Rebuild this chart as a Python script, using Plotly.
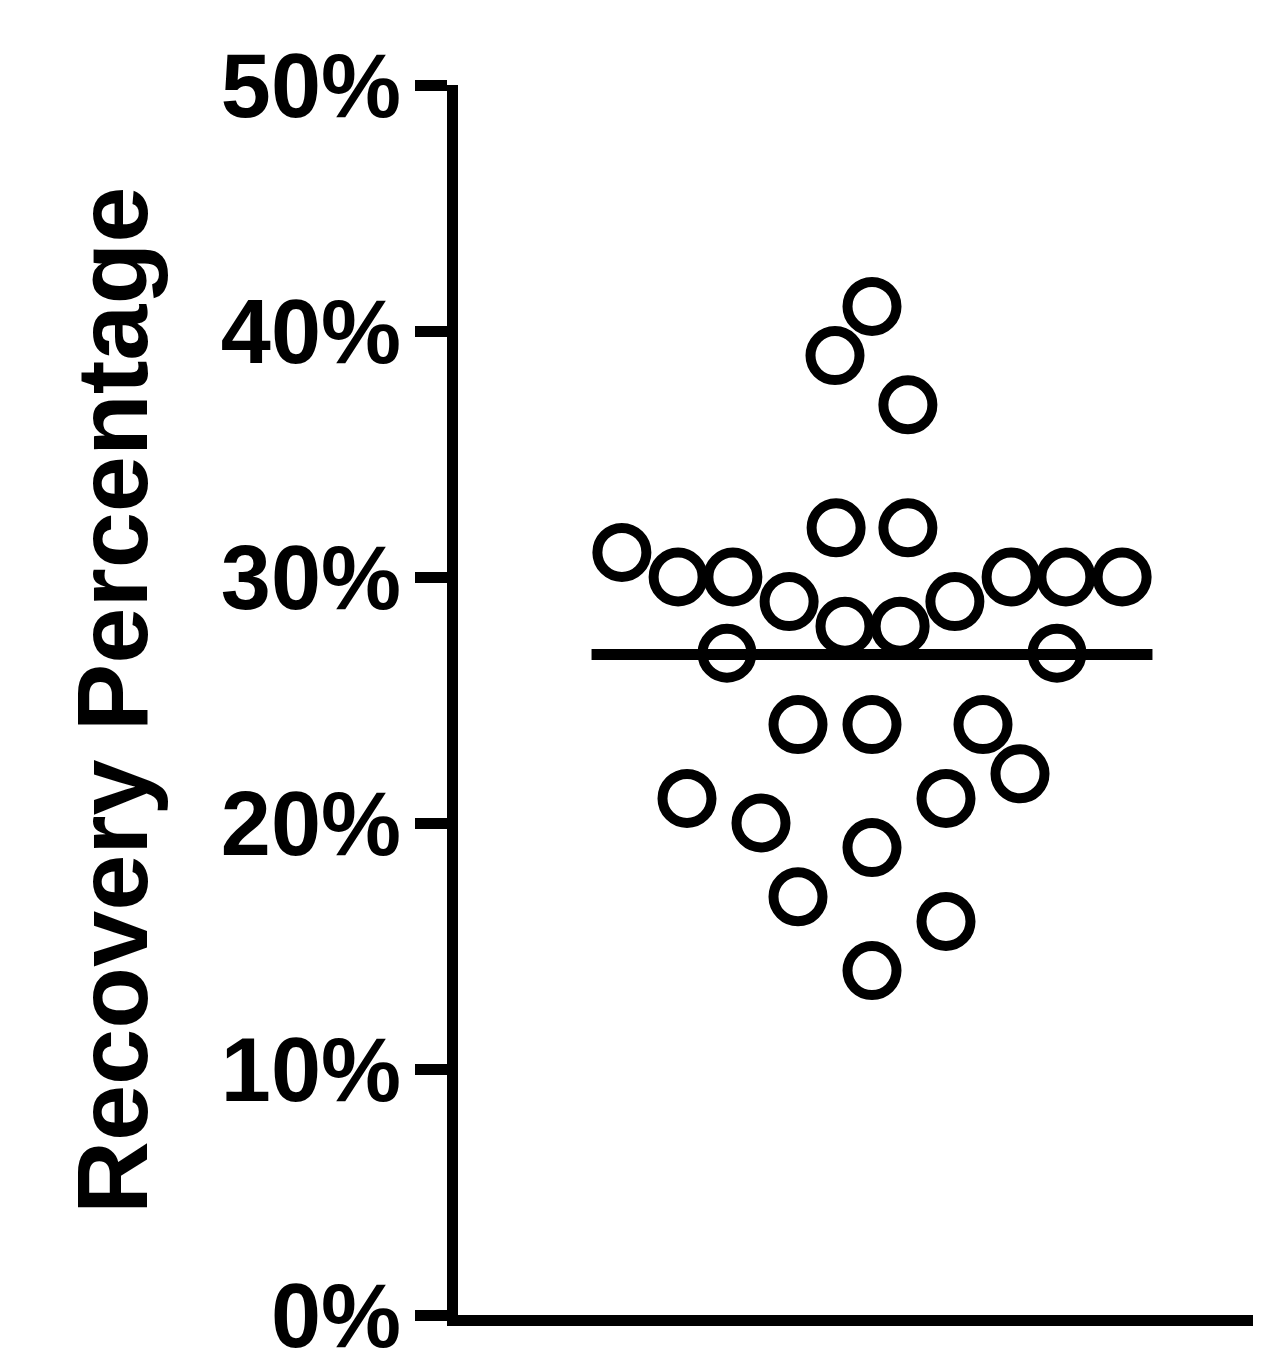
import plotly.graph_objects as go

# Recovery percentage values (%) and horizontal swarm offsets (column units)
recovery = [31, 30, 30, 29, 28, 28, 29, 30, 30, 30,
            26.9, 26.9,
            41, 39, 37,
            32, 32,
            24, 24, 24,
            22, 21, 21, 20, 19,
            17, 16, 14]
offsets = [-6.76, -5.24, -3.76, -2.24, -0.73, 0.76, 2.24, 3.76, 5.24, 6.76,
           -3.92, 5.0,
           0.0, -1.0, 0.97,
           -0.97, 0.97,
           -2.0, 0.0, 3.0,
           4.0, -5.0, 2.0, -3.0, 0.0,
           -2.0, 2.0, 0.0]
mean_span = [-7.58, 7.58]
ytick_vals = [0, 10, 20, 30, 40, 50]
ytick_text = ["0%", "10%", "20%", "30%", "40%", "50%"]
y_title = "Recovery Percentage"

mean_val = sum(recovery) / len(recovery)

FONT = "Arial, 'Liberation Sans', sans-serif"

fig = go.Figure()
fig.add_trace(go.Scatter(
    x=offsets, y=recovery, mode="markers",
    marker=dict(symbol="circle-open", size=49, color="black",
                line=dict(width=10, color="black")),
    showlegend=False, hoverinfo="y", cliponaxis=False,
))
fig.add_trace(go.Scatter(
    x=mean_span, y=[mean_val, mean_val], mode="lines",
    line=dict(color="black", width=11),
    showlegend=False, hoverinfo="skip",
))

W, H = 1261, 1348
L, R, T, B = 450, 8, 77, 41
plot_w = W - L - R
plot_h = H - T - B
center_px = 864
unit = 37.0
x_left = (L - center_px) / unit
x_right = (W - R - center_px) / unit

fig.update_layout(
    width=W, height=H,
    margin=dict(l=L, r=R, t=T, b=B, pad=0, autoexpand=False),
    paper_bgcolor="white", plot_bgcolor="white",
    xaxis=dict(range=[x_left, x_right], showgrid=False, zeroline=False,
               showline=True, linecolor="black", linewidth=11,
               showticklabels=False, ticks="", automargin=False),
    yaxis=dict(range=[0, 50], showgrid=False, zeroline=False,
               showline=True, linecolor="black", linewidth=11,
               tickvals=ytick_vals, ticktext=ytick_text,
               ticks="outside", ticklen=32, tickwidth=11, tickcolor="black",
               ticklabeloverflow="allow", ticklabelstandoff=-4,
               automargin=False,
               tickfont=dict(family=FONT, size=90, color="black", weight="bold")),
    annotations=[dict(
        text=y_title, textangle=-90, showarrow=False,
        xref="paper", yref="paper",
        x=(104 - L) / plot_w, y=(H - B - 693) / plot_h,
        xanchor="center", yanchor="middle",
        font=dict(family=FONT, size=101, color="black", weight="bold"),
    )],
)

fig.write_html("out.html")
